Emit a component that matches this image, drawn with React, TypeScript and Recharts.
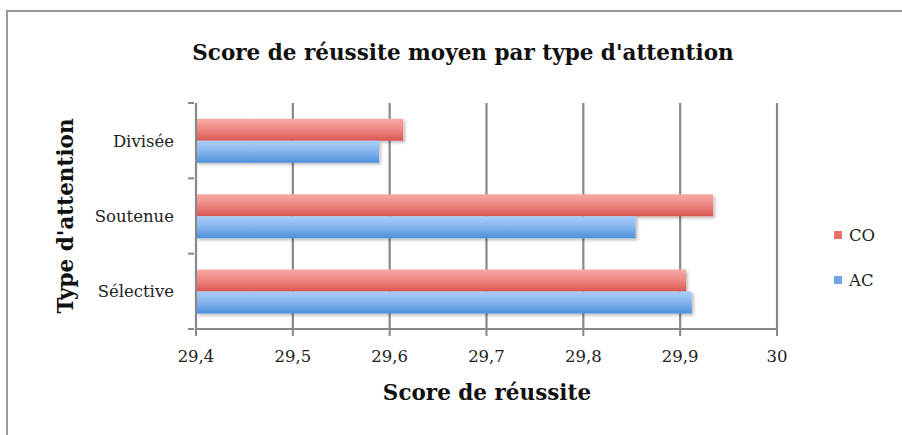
import React from 'react';
import { BarChart, Bar, XAxis, YAxis, CartesianGrid, Legend } from 'recharts';

const categories = ['Divisée', 'Soutenue', 'Sélective'];
const coValues = [29.614, 29.934, 29.906];
const acValues = [29.589, 29.854, 29.912];
const xTicks = [29.4, 29.5, 29.6, 29.7, 29.8, 29.9, 30];
const seriesNames = ['CO', 'AC'];

const data = categories.map((c, i) => ({ name: c, CO: coValues[i], AC: acValues[i] }));

const FONT = '"DejaVu Serif", serif';
const fmt = (v: number) => String(v).replace('.', ',');

const YTick = (props: any) => {
  const { x, y, payload, index } = props;
  const half = payload && payload.offset ? payload.offset : 37.7;
  const axisX = x + 8;
  return (
    <g>
      <line x1={axisX - 6} x2={axisX} y1={y - half} y2={y - half} stroke="#888" strokeWidth={2} />
      {index === categories.length - 1 && (
        <line x1={axisX - 6} x2={axisX} y1={y + half} y2={y + half} stroke="#888" strokeWidth={2} />
      )}
      <text x={x - 12} y={y} dy={6} textAnchor="end" fontFamily={FONT} fontSize={16.5} fill="#222">
        {payload.value}
      </text>
    </g>
  );
};

const LegendContent = () => {
  const colors = ['#e8706b', '#6fa6e8'];
  return (
    <div style={{ fontFamily: FONT, fontSize: 16.5, color: '#222' }}>
      {seriesNames.map((n, i) => (
        <div key={n} style={{ display: 'flex', alignItems: 'center', height: 22, marginBottom: i === 0 ? 23 : 0 }}>
          <span style={{ display: 'inline-block', width: 8, height: 8, background: colors[i], marginRight: 7 }} />
          <span>{n}</span>
        </div>
      ))}
    </div>
  );
};

export default function App() {
  return (
    <div style={{ position: 'absolute', left: 0, top: 0, width: 902, height: 435, background: '#fff', overflow: 'hidden' }}>
      <div style={{ position: 'absolute', left: 6, top: 10, width: 900, height: 430, borderLeft: '2px solid #999', borderTop: '2px solid #999' }} />
      <div style={{ position: 'absolute', left: 113, top: 40, width: 700, textAlign: 'center', fontFamily: FONT, fontWeight: 'bold', fontSize: 21.5, color: '#111' }}>
        Score de réussite moyen par type d'attention
      </div>
      <div style={{ position: 'absolute', left: 287, top: 380, width: 400, textAlign: 'center', fontFamily: FONT, fontWeight: 'bold', fontSize: 21.5, color: '#111' }}>
        Score de réussite
      </div>
      <div style={{ position: 'absolute', left: 66 - 150, top: 216 - 15, width: 300, height: 30, lineHeight: '30px', textAlign: 'center', transform: 'rotate(-90deg)', fontFamily: FONT, fontWeight: 'bold', fontSize: 21.5, color: '#111' }}>
        Type d'attention
      </div>
      <div style={{ position: 'absolute', left: 0, top: 0 }}>
        <BarChart
          width={902}
          height={435}
          data={data}
          layout="vertical"
          margin={{ top: 103, right: 125, bottom: 66, left: 96 }}
          barCategoryGap="21%"
          barGap={0}
        >
          <defs>
            <linearGradient id="gradCO" x1="0" y1="0" x2="0" y2="1">
              <stop offset="0%" stopColor="#f7aaa6" />
              <stop offset="50%" stopColor="#ee8580" />
              <stop offset="100%" stopColor="#d95650" />
            </linearGradient>
            <linearGradient id="gradAC" x1="0" y1="0" x2="0" y2="1">
              <stop offset="0%" stopColor="#abcdf8" />
              <stop offset="50%" stopColor="#84b4ee" />
              <stop offset="100%" stopColor="#4e8fdb" />
            </linearGradient>
            <filter id="barShadow" x="-5%" y="-20%" width="115%" height="160%">
              <feDropShadow dx="2" dy="2" stdDeviation="1.5" floodColor="#000" floodOpacity="0.25" />
            </filter>
          </defs>
          <CartesianGrid horizontal={false} stroke="#888" strokeWidth={2.2} />
          <XAxis
            type="number"
            domain={[29.4, 30]}
            ticks={xTicks}
            allowDataOverflow
            height={40}
            tickFormatter={fmt}
            axisLine={{ stroke: '#888', strokeWidth: 2 }}
            tickLine={{ stroke: '#888', strokeWidth: 2 }}
            tickSize={7}
            tick={{ fontFamily: FONT, fontSize: 16.5, fill: '#222', dy: 12 }}
          />
          <YAxis
            type="category"
            dataKey="name"
            width={100}
            axisLine={{ stroke: '#888', strokeWidth: 2 }}
            tickLine={false}
            tickSize={8}
            tick={<YTick />}
            interval={0}
          />
          <Legend
            layout="vertical"
            align="center"
            verticalAlign="middle"
            content={<LegendContent />}
            wrapperStyle={{ left: 834, top: 224, width: 60, height: 70 }}
          />
          <Bar dataKey="CO" name="CO" fill="url(#gradCO)" filter="url(#barShadow)" isAnimationActive={false} />
          <Bar dataKey="AC" name="AC" fill="url(#gradAC)" filter="url(#barShadow)" isAnimationActive={false} />
        </BarChart>
      </div>
    </div>
  );
}
